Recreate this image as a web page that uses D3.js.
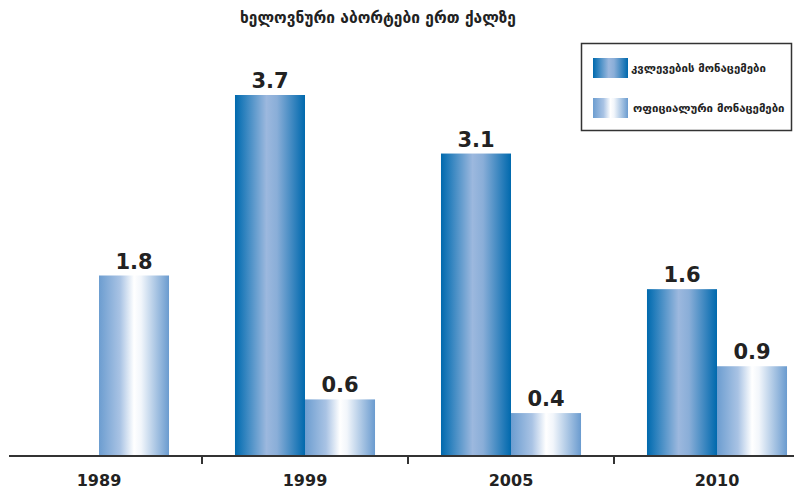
<!DOCTYPE html>
<html><head><meta charset="utf-8">
<script src="https://cdn.jsdelivr.net/npm/d3@7"></script>
<style>body{margin:0;background:#fff;} svg{display:block;}</style>
</head><body>
<svg id="c" width="794" height="491"></svg>
<script>
const title = "ხელოვნური აბორტები ერთ ქალზე";
const categories = ["1989", "1999", "2005", "2010"];
const seriesNames = ["კვლევების მონაცემები", "ოფიციალური მონაცემები"];
const researchValues = [null, 3.7, 3.1, 1.71];
const officialValues = [1.85, 0.58, 0.44, 0.92];
const researchLabels = [null, "3.7", "3.1", "1.6"];
const officialLabels = ["1.8", "0.6", "0.4", "0.9"];

const svg = d3.select("#c");
const defs = svg.append("defs");
const g1 = defs.append("linearGradient").attr("id","gDark").attr("x1","0%").attr("x2","100%");
[["0%","#0069ad"],["8%","#1a78b8"],["45%","#9cb8de"],["60%","#8aaed8"],["92%","#1a76b6"],["100%","#0069ad"]]
  .forEach(s=>g1.append("stop").attr("offset",s[0]).attr("stop-color",s[1]));
const g2 = defs.append("linearGradient").attr("id","gLight").attr("x1","0%").attr("x2","100%");
[["0%","#6c9dd0"],["30%","#a9c3e4"],["50%","#ffffff"],["60%","#f2f6fb"],["100%","#6a9bcf"]]
  .forEach(s=>g2.append("stop").attr("offset",s[0]).attr("stop-color",s[1]));

const baseY = 456;
const y = d3.scaleLinear().domain([0, 3.7]).range([baseY, 95]);
const x0 = d3.scaleBand().domain(categories).range([-4, 820]);
const x1 = d3.scaleBand().domain([0,1]).range([0, x0.bandwidth()]).paddingInner(0).paddingOuter(0.471);

const data = categories.map((c,i)=>({c, vals:[
  {s:0, v:researchValues[i], l:researchLabels[i]},
  {s:1, v:officialValues[i], l:officialLabels[i]}]}));

const grp = svg.append("g").selectAll("g").data(data).join("g")
  .attr("transform", d=>`translate(${x0(d.c)},0)`);
const bars = grp.selectAll("g").data(d=>d.vals.filter(e=>e.v!=null)).join("g");
bars.append("rect")
  .attr("x", d=>x1(d.s)).attr("width", x1.bandwidth())
  .attr("y", d=>y(d.v)).attr("height", d=>baseY - y(d.v))
  .attr("fill", d=>d.s===0?"url(#gDark)":"url(#gLight)");
bars.append("text")
  .attr("x", d=>x1(d.s)+x1.bandwidth()/2).attr("y", d=>y(d.v)-7)
  .attr("text-anchor","middle")
  .attr("font-family","DejaVu Sans").attr("font-weight","bold").attr("font-size",21)
  .attr("fill","#222").text(d=>d.l);

// axis
const axis = svg.append("g");
axis.append("line").attr("x1",9).attr("x2",794).attr("y1",baseY).attr("y2",baseY)
  .attr("stroke","#333").attr("stroke-width",2);
categories.slice(1).forEach(c=>{
  axis.append("line").attr("x1",x0(c)).attr("x2",x0(c)).attr("y1",baseY).attr("y2",baseY+8)
   .attr("stroke","#333").attr("stroke-width",2);
});
axis.selectAll("text.cat").data(categories).join("text")
  .attr("x", d=>x0(d)+x0.bandwidth()/2).attr("y", 486)
  .attr("text-anchor","middle")
  .attr("font-family","DejaVu Sans").attr("font-weight","bold").attr("font-size",16)
  .attr("fill","#222").text(d=>d);

// title
svg.append("text").attr("x",378).attr("y",23).attr("text-anchor","middle")
  .attr("font-family","DejaVu Sans").attr("font-weight","bold").attr("font-size",15.5)
  .attr("fill","#222").text(title);

// legend
const lg = svg.append("g");
lg.append("rect").attr("x",581.5).attr("y",43.5).attr("width",210).attr("height",87)
  .attr("fill","#fff").attr("stroke","#333").attr("stroke-width",1.5);
seriesNames.forEach((n,i)=>{
  const yy = 58 + i*40;
  lg.append("rect").attr("x",593).attr("y",yy).attr("width",35).attr("height",20)
    .attr("fill", i===0?"url(#gDark)":"url(#gLight)");
  lg.append("text").attr("x",631 + i*2).attr("y",yy+14).attr("font-family","DejaVu Sans")
    .attr("font-weight","bold").attr("font-size",11.4).attr("fill","#222").text(n);
});
</script>
</body></html>
